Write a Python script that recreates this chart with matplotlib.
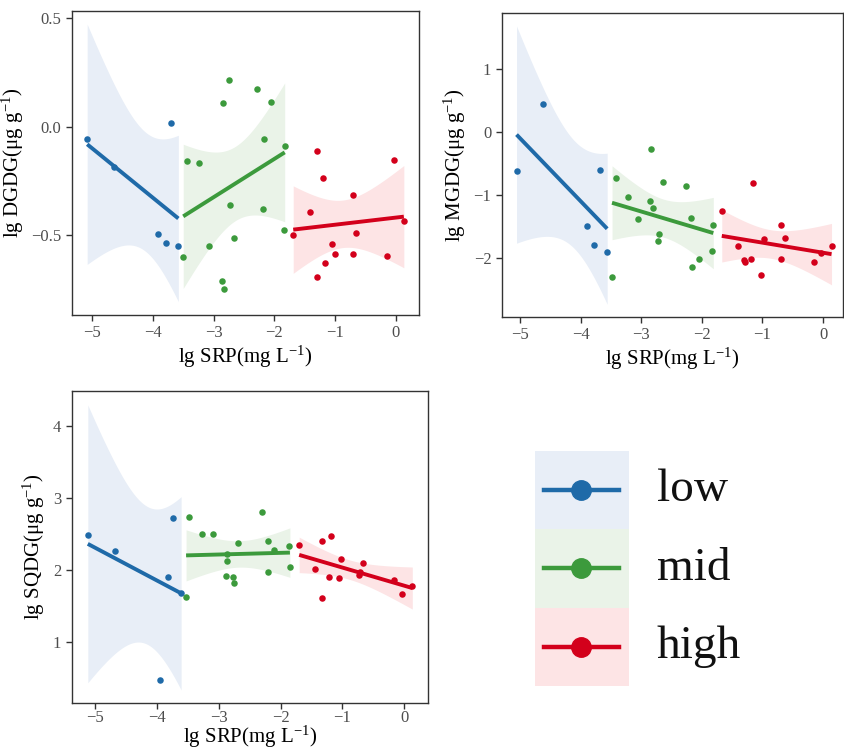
import numpy as np
import matplotlib
matplotlib.use("Agg")
from matplotlib import pyplot as plt, patches
from matplotlib.lines import Line2D

plt.rcParams['font.family'] = ['Liberation Serif', 'DejaVu Serif']
plt.rcParams['mathtext.fontset'] = 'custom'
plt.rcParams['mathtext.rm'] = 'Liberation Serif'
plt.rcParams['mathtext.it'] = 'Liberation Serif:italic'

# ---- data ----
groups = ['low', 'mid', 'high']
colors = {'low': '#1f6aa8', 'mid': '#3c9a3c', 'high': '#d3001b'}
bands = {'low': '#e8eef7', 'mid': '#eaf3e8', 'high': '#fde4e5'}

# DGDG
dgdg_low_x = [-5.08, -4.64, -3.70, -3.92, -3.78, -3.58]
dgdg_low_y = [-0.055, -0.188, 0.018, -0.495, -0.535, -0.551]
dgdg_mid_x = [-3.44, -3.24, -3.50, -3.07, -2.84, -2.74, -2.86, -2.83,
              -2.73, -2.66, -2.28, -2.06, -2.17, -2.19, -1.83, -1.85]
dgdg_mid_y = [-0.158, -0.166, -0.60, -0.551, 0.111, 0.215, -0.712, -0.751,
              -0.36, -0.514, 0.175, 0.114, -0.057, -0.378, -0.089, -0.475]
dgdg_high_x = [-1.69, -1.42, -1.30, -1.20, -1.05, -1.00, -1.16, -1.30,
               -0.71, -0.65, -0.71, -0.15, -0.04, 0.13]
dgdg_high_y = [-0.498, -0.394, -0.112, -0.238, -0.542, -0.589, -0.629, -0.692,
               -0.315, -0.492, -0.586, -0.595, -0.155, -0.437]

# MGDG
mgdg_low_x = [-5.055, -4.62, -3.68, -3.90, -3.77, -3.56]
mgdg_low_y = [-0.614, 0.444, -0.598, -1.49, -1.79, -1.905]
mgdg_mid_x = [-3.42, -3.48, -3.21, -3.05, -2.83, -2.85, -2.81, -2.70,
              -2.73, -2.64, -2.26, -2.17, -2.16, -2.05, -1.81, -1.83]
mgdg_mid_y = [-0.72, -2.30, -1.03, -1.38, -0.265, -1.085, -1.20, -1.62,
              -1.72, -0.78, -0.857, -1.36, -2.13, -2.01, -1.476, -1.88]
mgdg_high_x = [-1.67, -1.41, -1.30, -1.28, -1.19, -1.15, -1.03, -0.98,
               -0.70, -0.69, -0.63, -0.15, -0.03, 0.14]
mgdg_high_y = [-1.254, -1.80, -2.02, -2.05, -2.01, -0.80, -2.265, -1.69,
               -1.47, -2.01, -1.68, -2.05, -1.91, -1.80]

# SQDG
sqdg_low_x = [-5.12, -4.68, -3.74, -3.82, -3.61, -3.95]
sqdg_low_y = [2.49, 2.27, 2.72, 1.91, 1.68, 0.477]
sqdg_mid_x = [-3.53, -3.48, -3.27, -3.10, -2.87, -2.86, -2.89, -2.77,
              -2.75, -2.69, -2.30, -2.21, -2.20, -2.10, -1.87, -1.85]
sqdg_mid_y = [1.63, 2.74, 2.50, 2.50, 2.23, 2.13, 1.92, 1.90,
              1.82, 2.38, 2.80, 2.40, 1.98, 2.28, 2.33, 2.04]
sqdg_high_x = [-1.70, -1.44, -1.33, -1.33, -1.22, -1.18, -1.06, -1.02,
               -0.73, -0.72, -0.66, -0.16, -0.04, 0.13]
sqdg_high_y = [2.35, 2.01, 2.41, 1.61, 1.90, 2.47, 1.89, 2.15,
               1.93, 1.97, 2.10, 1.86, 1.67, 1.78]

x_label = 'lg SRP(mg L$^{\\mathregular{-1}}$)'

# 95% two-sided t quantiles
T95 = {1: 12.706, 2: 4.303, 3: 3.182, 4: 2.776, 5: 2.571, 6: 2.447, 7: 2.365,
       8: 2.306, 9: 2.262, 10: 2.228, 11: 2.201, 12: 2.179, 13: 2.160,
       14: 2.145, 15: 2.131, 16: 2.120, 17: 2.110, 18: 2.101, 19: 2.093, 20: 2.086}


def lm_band(x, y):
    # straight line fit with 95% confidence band, like geom_smooth(method='lm')
    x = np.asarray(x, float)
    y = np.asarray(y, float)
    n = len(x)
    b, a = np.polyfit(x, y, 1)
    resid = y - (a + b * x)
    s = np.sqrt(np.sum(resid ** 2) / (n - 2))
    xm = x.mean()
    sxx = np.sum((x - xm) ** 2)
    xs = np.linspace(x.min(), x.max(), 100)
    fit = a + b * xs
    se = s * np.sqrt(1.0 / n + (xs - xm) ** 2 / sxx)
    t = T95[n - 2]
    return xs, fit, fit - t * se, fit + t * se


def panel(ax, data, ylabel, xlim, ylim, yticks, yticklabels, xpad=2, tpad=3.5):
    for g in groups:
        x, y = data[g]
        xs, fit, lo, hi = lm_band(x, y)
        ax.fill_between(xs, lo, hi, color=bands[g], lw=0, zorder=1)
        ax.scatter(x, y, s=22, color=colors[g], zorder=3, lw=0)
        ax.plot(xs, fit, color=colors[g], lw=2.8, zorder=4, solid_capstyle='butt')
    ax.set_xlim(xlim)
    ax.set_ylim(ylim)
    ax.set_xticks([-5, -4, -3, -2, -1, 0])
    ax.set_xticklabels(['\u22125', '\u22124', '\u22123', '\u22122', '\u22121', '0'])
    ax.set_yticks(yticks)
    ax.set_yticklabels(yticklabels)
    ax.tick_params(direction='out', length=4, width=1, color='#333333',
                   labelcolor='#4d4d4d', labelsize=12)
    ax.tick_params(axis='x', pad=tpad)
    for sp in ax.spines.values():
        sp.set_color('#333333')
        sp.set_linewidth(1)
    ax.set_xlabel(x_label, fontsize=15, color='black', labelpad=xpad)
    ax.set_ylabel(ylabel, fontsize=15, color='black', labelpad=4)


fig = plt.figure(figsize=(8.45, 7.52), dpi=100)

ax1 = fig.add_axes([0.0852, 0.5811, 0.4107, 0.4043])
panel(ax1, {'low': (dgdg_low_x, dgdg_low_y), 'mid': (dgdg_mid_x, dgdg_mid_y),
            'high': (dgdg_high_x, dgdg_high_y)},
      'lg DGDG(\u03bcg g$^{\\mathregular{-1}}$)', (-5.33, 0.38), (-0.869, 0.534),
      [-0.5, 0.0, 0.5], ['\u22120.5', '0.0', '0.5'])

ax2 = fig.add_axes([0.5937, 0.5785, 0.404, 0.4046])
panel(ax2, {'low': (mgdg_low_x, mgdg_low_y), 'mid': (mgdg_mid_x, mgdg_mid_y),
            'high': (mgdg_high_x, mgdg_high_y)},
      'lg MGDG(\u03bcg g$^{\\mathregular{-1}}$)', (-5.30, 0.33), (-2.93, 1.90),
      [-2, -1, 0, 1], ['\u22122', '\u22121', '0', '1'])

ax3 = fig.add_axes([0.0849, 0.0656, 0.4213, 0.4149])
panel(ax3, {'low': (sqdg_low_x, sqdg_low_y), 'mid': (sqdg_mid_x, sqdg_mid_y),
            'high': (sqdg_high_x, sqdg_high_y)},
      'lg SQDG(\u03bcg g$^{\\mathregular{-1}}$)', (-5.38, 0.38), (0.16, 4.49),
      [1, 2, 3, 4], ['1', '2', '3', '4'], xpad=-1, tpad=1)

# legend drawn by hand: coloured key boxes with line + dot, big serif labels
axl = fig.add_axes([0.633, 0.0878, 0.30, 0.3129])
axl.set_xlim(0, 0.30 / 0.111)
axl.set_ylim(0, 3)
axl.axis('off')
for i, g in enumerate(groups):
    yc = 2.5 - i
    axl.add_patch(patches.Rectangle((0, yc - 0.5), 1, 1, color=bands[g], lw=0))
    axl.add_line(Line2D([0.1, 0.9], [yc, yc], color=colors[g], lw=3.2))
    axl.plot(0.49, yc, 'o', color=colors[g], markersize=14)
    axl.text(1.3, yc, g, fontsize=34, va='center', ha='left', color='#111111')

fig.savefig('out.png', dpi=100)
